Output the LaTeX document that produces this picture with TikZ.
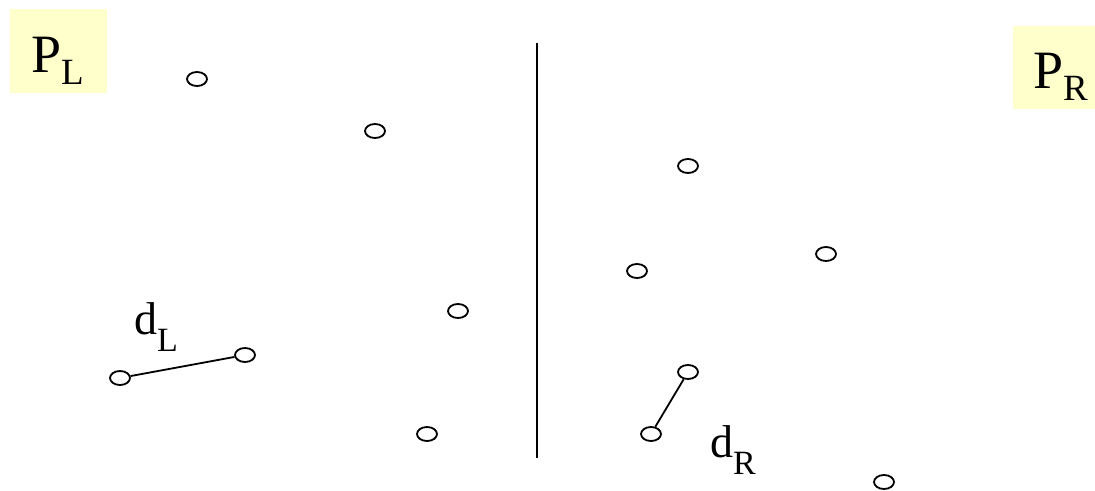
\documentclass[tikz,border=0pt]{standalone}
\usepackage{fontspec}
\setmainfont{Liberation Serif}
\usetikzlibrary{shapes.geometric}
\definecolor{paleyellow}{HTML}{FFFFCC}
\tikzset{
  pt/.style={ellipse, draw, line width=1.8pt, minimum width=20pt, minimum height=14pt, inner sep=0pt},
  pbox/.style={fill=paleyellow, inner sep=0pt, anchor=north west},
  lbl/.style={inner sep=0pt, anchor=base west}
}
\newcommand{\bigsub}[2]{\fontsize{54}{54}\selectfont #1\raisebox{-12pt}{\fontsize{37}{37}\selectfont #2}}
\newcommand{\dsub}[2]{\fontsize{46}{46}\selectfont #1\raisebox{-17pt}{\fontsize{34}{34}\selectfont #2}}
\begin{document}
\begin{tikzpicture}[x=1pt, y=-1pt]
  \useasboundingbox (0,0) rectangle (1095,490);
  % yellow label boxes
  \node[pbox, minimum width=97pt, minimum height=84pt] (boxL) at (10,9) {};
  \node[pbox, minimum width=82pt, minimum height=83pt] (boxR) at (1013,26) {};
  \node[lbl] (PL) at (31,72) {\bigsub{P}{L}};
  \node[lbl] (PR) at (1033,88) {\bigsub{P}{R}};
  % dividing line
  \coordinate (top) at (537,43);
  \coordinate (bot) at (537,458);
  \draw[line width=2pt] (top) -- (bot);
  % left points
  \node[pt] (l1) at (197,79) {};
  \node[pt] (l2) at (375,131) {};
  \node[pt] (l3) at (458,311) {};
  \node[pt] (l4) at (245,355) {};
  \node[pt] (l5) at (120,378) {};
  \node[pt] (l6) at (427,434) {};
  % right points
  \node[pt] (r1) at (688,166) {};
  \node[pt] (r2) at (826,254) {};
  \node[pt] (r3) at (637,271) {};
  \node[pt] (r4) at (688,372) {};
  \node[pt] (r5) at (651,434) {};
  \node[pt] (r6) at (884,482) {};
  % closest pairs
  \draw[line width=1.8pt] (l5) -- (l4);
  \draw[line width=1.8pt] (r5) -- (r4);
  \node[lbl] (dL) at (134,334) {\dsub{d}{L}};
  \node[lbl] (dR) at (710,457) {\dsub{d}{R}};
\end{tikzpicture}
\end{document}
